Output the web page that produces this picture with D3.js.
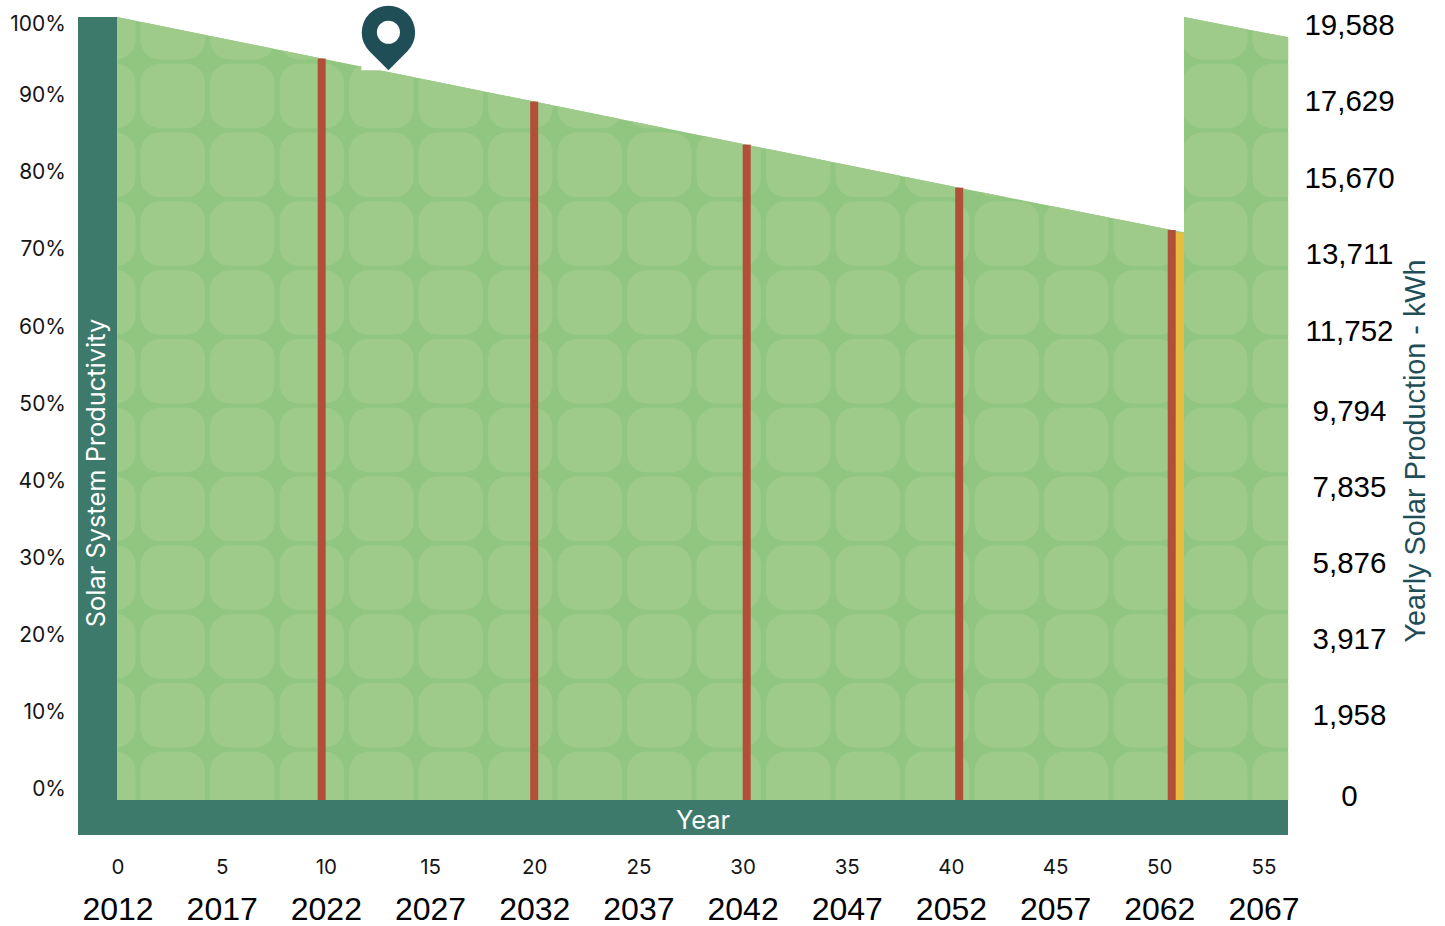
<!DOCTYPE html>
<html>
<head>
<meta charset="utf-8">
<script src="https://cdn.jsdelivr.net/npm/d3@7"></script>
<style>
    html, body { margin: 0; padding: 0; background: #fff; }
    svg { display: block; }
    .axis text { fill: #151515; }
    .pct text { font: 21px Inter, sans-serif; }
    .kwh text { font: 29.5px "Liberation Sans", sans-serif; fill: #000; }
    .yrs text { font: 20.5px Inter, sans-serif; }
    .cal text { font: 32px "Liberation Sans", sans-serif; fill: #000; }
</style>
</head>
<body>
<div id="visualization"></div>
<script>
// values
const lineYears = [0.37, 10, 20, 30, 40, 50, 50.58];
const lineValues = [100, 94.7, 89.2, 83.7, 78.2, 72.8, 72.5];
const resetYears = [50.58, 55.48];
const resetValues = [100, 97.4];
const redYears = [10, 20, 30, 40, 50];
const redValues = [94.7, 89.2, 83.7, 78.2, 72.8];
const yellowYears = [50.39];
const yellowValues = [72.5];
const pinYear = 13.14;
const pinValue = 93.2;

const pctTicks = [0, 10, 20, 30, 40, 50, 60, 70, 80, 90, 100];
const kwhTicks = [0, 1958, 3917, 5876, 7835, 9794, 11752, 13711, 15670, 17629, 19588];
const yearTicks = [0, 5, 10, 15, 20, 25, 30, 35, 40, 45, 50, 55];

const width = 1445;
const height = 926;
const barWidth = 8;

const svg = d3.select("#visualization")
    .append("svg")
    .attr("width", width)
    .attr("height", height);

// plot scales
const x = d3.scaleLinear().domain([0, 55]).range([109.2, 1277.95]);
const y = d3.scaleLinear().domain([0, 100]).range([800, 17]);

// the tick labels do not sit on the plot scales in the original graphic,
// they were placed by hand so these have a few break points
const xLabels = d3.scaleLinear().domain([0, 55]).range([117.5, 1263.5]);
const yPct = d3.scaleLinear().domain([0, 90, 100]).range([789, 95, 24]);
const yKwh = d3.scaleLinear().domain([0, 1958, 9794, 11752, 19588]).range([796, 715, 411, 331, 25]);

const area = d3.area()
    .x((d) => x(d[0]))
    .y0(y(0))
    .y1((d) => y(d[1]));

const lineData = d3.zip(lineYears, lineValues);
const resetData = d3.zip(resetYears, resetValues);
const areaPath = area(lineData) + area(resetData);

svg.append("clipPath")
    .attr("id", "area-clip")
    .append("path")
    .attr("d", areaPath);

svg.append("path")
    .attr("d", areaPath)
    .style("fill", "#90c680");

// solar panel cells
const cellW = 69.5;
const cellH = 68.8;
const cols = d3.range(0, 18).map((i) => 71 + i * cellW);
const rows = d3.range(0, 12).map((i) => -5 + i * cellH);

svg.append("g")
    .attr("clip-path", "url(#area-clip)")
    .selectAll("g")
    .data(rows)
    .enter().append("g")
    .selectAll("rect")
    .data((r) => cols.map((c) => [c, r]))
    .enter().append("rect")
    .attr("x", (d) => d[0])
    .attr("y", (d) => d[1])
    .attr("width", 64.5)
    .attr("height", 64.5)
    .attr("rx", 19)
    .style("fill", "#9ecb89");

// red and yellow marks
svg.selectAll(".red")
    .data(d3.zip(redYears, redValues))
    .enter().append("rect")
    .attr("class", "red")
    .attr("x", (d) => x(d[0]) - barWidth / 2)
    .attr("y", (d) => y(d[1]))
    .attr("width", barWidth)
    .attr("height", (d) => y(0) - y(d[1]))
    .style("fill", "#b24f38");

svg.selectAll(".yellow")
    .data(d3.zip(yellowYears, yellowValues))
    .enter().append("rect")
    .attr("class", "yellow")
    .attr("x", (d) => x(d[0]) - barWidth / 2)
    .attr("y", (d) => y(d[1]))
    .attr("width", barWidth)
    .attr("height", (d) => y(0) - y(d[1]))
    .style("fill", "#e8bd3f");

// dark frame
svg.append("rect")
    .attr("x", 78).attr("y", y(100))
    .attr("width", 39).attr("height", 835 - y(100))
    .style("fill", "#3d7a6b");
svg.append("rect")
    .attr("x", 78).attr("y", y(0))
    .attr("width", 1288 - 78).attr("height", 35)
    .style("fill", "#3d7a6b");

// white patch behind the pin, then the pin itself
const pinX = x(pinYear);
const pinY = y(pinValue);
svg.append("rect")
    .attr("x", pinX - 27).attr("y", pinY - 12)
    .attr("width", 27).attr("height", 12)
    .style("fill", "#fff");

const pin = svg.append("g").attr("transform", `translate(${pinX},${pinY})`);
pin.append("path")
    .attr("d", "M0,0 L-19,-19 A26.7,26.7 0 1 1 19,-19 Z")
    .style("fill", "#1f4e57");
pin.append("circle")
    .attr("cy", -38)
    .attr("r", 11.5)
    .style("fill", "#fff");

// axes
const pctAxis = svg.append("g")
    .attr("class", "axis pct")
    .attr("transform", "translate(66,0)")
    .call(d3.axisLeft(yPct).tickValues(pctTicks).tickSize(0).tickPadding(0).tickFormat((d) => d + "%"));
pctAxis.select(".domain").remove();

const kwhAxis = svg.append("g")
    .attr("class", "axis kwh")
    .attr("transform", "translate(1349.5,0)")
    .call(d3.axisRight(yKwh).tickValues(kwhTicks).tickSize(0).tickPadding(0).tickFormat(d3.format(",")));
kwhAxis.select(".domain").remove();
kwhAxis.selectAll("text").attr("text-anchor", "middle");

const yrsAxis = svg.append("g")
    .attr("class", "axis yrs")
    .attr("transform", "translate(0,859)")
    .call(d3.axisBottom(xLabels).tickValues(yearTicks).tickSize(0).tickPadding(0).tickFormat((d) => d));
yrsAxis.select(".domain").remove();

const calAxis = svg.append("g")
    .attr("class", "axis cal")
    .attr("transform", "translate(0,897)")
    .call(d3.axisBottom(xLabels).tickValues(yearTicks).tickSize(0).tickPadding(0).tickFormat((d) => 2012 + d));
calAxis.select(".domain").remove();

// titles
svg.append("text")
    .attr("transform", "translate(105,473) rotate(-90)")
    .attr("text-anchor", "middle")
    .style("font", "25.4px Inter, sans-serif")
    .style("fill", "#fff")
    .text("Solar System Productivity");

svg.append("text")
    .attr("x", 703)
    .attr("y", 829)
    .attr("text-anchor", "middle")
    .style("font", "25.4px Inter, sans-serif")
    .style("fill", "#fff")
    .text("Year");

svg.append("text")
    .attr("transform", "translate(1425,451) rotate(-90)")
    .attr("text-anchor", "middle")
    .style("font", "28.8px 'Liberation Sans', sans-serif")
    .style("fill", "#1f4e57")
    .text("Yearly Solar Production - kWh");
</script>
</body>
</html>
